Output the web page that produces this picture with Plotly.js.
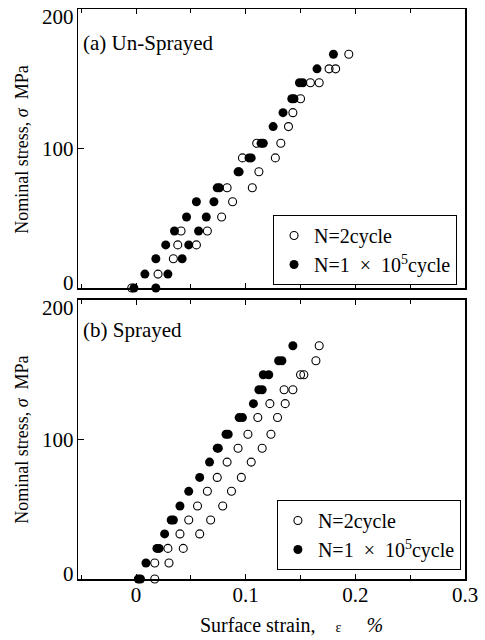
<!DOCTYPE html>
<html>
<head>
<meta charset="utf-8">
<script src="https://cdn.plot.ly/plotly-3.0.1.min.js"></script>
<style>html,body{margin:0;padding:0;background:#fff;}</style>
</head>
<body>
<div id="chart" style="width:485px;height:640px;"></div>
<script>
// (a) Un-Sprayed : N=2cycle (open)
const unsprOpenX = [-0.004, 0.020, 0.034, 0.038, 0.055, 0.041, 0.065, 0.078, 0.088, 0.083, 0.106, 0.112, 0.097, 0.127, 0.110, 0.132, 0.139, 0.143, 0.150, 0.159, 0.167, 0.176, 0.182, 0.194];
const unsprOpenY = [0, 10, 21, 31, 31, 41, 41, 51, 62, 72, 72, 83.5, 93.5, 93.5, 104, 104, 116, 126, 136, 147.5, 147.5, 157.5, 157.5, 168];
// (a) Un-Sprayed : N=1x10^5 cycle (filled)
const unsprFillX = [-0.002, 0.018, 0.008, 0.029, 0.018, 0.042, 0.027, 0.048, 0.035, 0.057, 0.046, 0.064, 0.055, 0.071, 0.074, 0.076, 0.093, 0.094, 0.103, 0.105, 0.114, 0.116, 0.125, 0.134, 0.142, 0.144, 0.149, 0.152, 0.165, 0.180];
const unsprFillY = [0, 0, 10, 10, 21, 21, 31, 31, 41, 41, 51, 51, 62, 62, 72, 72, 83.5, 83.5, 93.5, 93.5, 104, 104, 116, 126, 136, 136, 147.5, 147.5, 157.5, 168];
// (b) Sprayed : N=2cycle (open)
const sprOpenX = [0.017, 0.017, 0.030, 0.029, 0.043, 0.040, 0.058, 0.048, 0.068, 0.056, 0.079, 0.065, 0.087, 0.074, 0.096, 0.083, 0.105, 0.093, 0.115, 0.102, 0.123, 0.111, 0.129, 0.122, 0.136, 0.135, 0.143, 0.150, 0.153, 0.164, 0.167];
const sprOpenY = [0, 11.5, 11.5, 22, 22, 32.4, 32.4, 42.4, 42.4, 52.5, 52.5, 63, 63, 73, 73, 84, 84, 94, 94, 104, 104, 116, 116, 126, 126, 136, 136, 146.8, 146.8, 156.8, 167.6];
// (b) Sprayed : N=1x10^5 cycle (filled)
const sprFillX = [0.002, 0.004, 0.009, 0.019, 0.021, 0.026, 0.032, 0.034, 0.040, 0.048, 0.058, 0.067, 0.074, 0.075, 0.082, 0.084, 0.094, 0.097, 0.107, 0.112, 0.115, 0.116, 0.121, 0.130, 0.133, 0.143];
const sprFillY = [0, 0, 11.5, 22, 22, 32.4, 42.4, 42.4, 52.5, 63, 73, 84, 94, 94, 104, 104, 116, 116, 126, 136, 136, 146.8, 146.8, 156.8, 156.8, 167.6];

const xTickVals = [0, 0.1, 0.2, 0.3];
const xTickText = ['0', '0.1', '0.2', '0.3'];
const yTickVals = [0, 100, 200];
const yTickText = ['0', '100', '200'];
const openName = 'N=2cycle';
const fillName = 'N=1\u00A0\u00A0×\u00A0\u00A010<sup>5</sup>cycle';

const FONT = 'Liberation Serif, Times New Roman, serif';
const openMarker = {symbol: 'circle-open', size: 8, color: '#000', line: {width: 1.1, color: '#000'}};
const fillMarker = {symbol: 'circle', size: 9, color: '#000'};

const traces = [
  {x: unsprOpenX, y: unsprOpenY, xaxis: 'x2', yaxis: 'y2', mode: 'markers', name: openName, marker: openMarker, legend: 'legend', cliponaxis: false},
  {x: unsprFillX, y: unsprFillY, xaxis: 'x2', yaxis: 'y2', mode: 'markers', name: fillName, marker: fillMarker, legend: 'legend', cliponaxis: false},
  {x: sprOpenX, y: sprOpenY, xaxis: 'x', yaxis: 'y', mode: 'markers', name: openName, marker: openMarker, legend: 'legend2', cliponaxis: false},
  {x: sprFillX, y: sprFillY, xaxis: 'x', yaxis: 'y', mode: 'markers', name: fillName, marker: fillMarker, legend: 'legend2', cliponaxis: false}
];

const xCommon = {
  range: [-0.053, 0.3], tickvals: xTickVals, ticktext: xTickText,
  ticks: 'inside', ticklen: 5, tickwidth: 1, tickcolor: '#000',
  minor: {tickvals: [-0.05, 0.05, 0.15, 0.25], ticks: 'inside', ticklen: 4, tickcolor: '#000'},
  showline: true, linecolor: '#000', linewidth: 1.5, mirror: 'ticks',
  showgrid: false, zeroline: false, ticklabelstandoff: -4,
  tickfont: {family: FONT, size: 21, color: '#000'}
};
const yCommon = {
  range: [0, 200.5], tickvals: yTickVals, showticklabels: false,
  ticks: 'inside', ticklen: 6, tickwidth: 1, tickcolor: '#000',
  showline: true, linecolor: '#000', linewidth: 1.5, mirror: true,
  showgrid: false, zeroline: false
};

const legendCommon = {
  bgcolor: '#fff', bordercolor: '#000', borderwidth: 1,
  font: {family: FONT, size: 20, color: '#000'},
  xanchor: 'left', yanchor: 'top', itemwidth: 30,
  tracegroupgap: 0
};

// y tick labels placed at the axis values (labels nudged inward at the range ends, as in the reference)
const yLabelAnn = [];
['y2', 'y'].forEach(function (ax) {
  yTickVals.forEach(function (v, i) {
    const shift = i === 0 ? 5 : (i === yTickVals.length - 1 ? -7 : 0);
    yLabelAnn.push({text: yTickText[i], xref: 'paper', yref: ax, x: 0, y: v, xanchor: 'right', yanchor: 'middle',
      xshift: -2, yshift: shift, showarrow: false, font: {family: FONT, size: 21, color: '#000'}});
  });
});

const layout = {
  width: 485, height: 640,
  margin: {l: 78, r: 20, t: 9, b: 61},
  paper_bgcolor: '#fff', plot_bgcolor: '#fff',
  font: {family: FONT, color: '#000'},
  showlegend: true,
  xaxis: Object.assign({}, xCommon, {anchor: 'y', domain: [0, 1]}),
  yaxis: Object.assign({}, yCommon, {anchor: 'x', domain: [0, 0.4895]}),
  xaxis2: Object.assign({}, xCommon, {anchor: 'y2', domain: [0, 1], showticklabels: false}),
  yaxis2: Object.assign({}, yCommon, {anchor: 'x2', domain: [0.5105, 1]}),
  legend: Object.assign({}, legendCommon, {x: 0.504, y: 0.6386}),
  legend2: Object.assign({}, legendCommon, {x: 0.514, y: 0.1386}),
  annotations: yLabelAnn.concat([
    {text: '(a) Un-Sprayed', xref: 'paper', yref: 'paper', x: 0.008, y: 0.94, xanchor: 'left', yanchor: 'middle', showarrow: false, font: {family: FONT, size: 21, color: '#000'}},
    {text: '(b) Sprayed', xref: 'paper', yref: 'paper', x: 0.008, y: 0.437, xanchor: 'left', yanchor: 'middle', showarrow: false, font: {family: FONT, size: 21, color: '#000'}},
    {text: 'Nominal stress,\u00A0<i>σ</i>\u00A0\u00A0MPa', xref: 'paper', yref: 'paper', x: -0.145, y: 0.753, xanchor: 'center', yanchor: 'middle', textangle: -90, showarrow: false, font: {family: FONT, size: 18, color: '#000'}},
    {text: 'Nominal stress,\u00A0<i>σ</i>\u00A0\u00A0MPa', xref: 'paper', yref: 'paper', x: -0.145, y: 0.244, xanchor: 'center', yanchor: 'middle', textangle: -90, showarrow: false, font: {family: FONT, size: 18, color: '#000'}},
    {text: 'Surface strain,\u00A0\u00A0\u00A0\u00A0<span style="font-size:14px">ε</span>\u00A0\u00A0\u00A0\u00A0\u00A0<i>%</i>', xref: 'paper', yref: 'paper', x: 0.552, y: -0.08, xanchor: 'center', yanchor: 'middle', showarrow: false, font: {family: FONT, size: 20, color: '#000'}}
  ])
};

Plotly.newPlot('chart', traces, layout, {staticPlot: true, displayModeBar: false});
</script>
</body>
</html>
